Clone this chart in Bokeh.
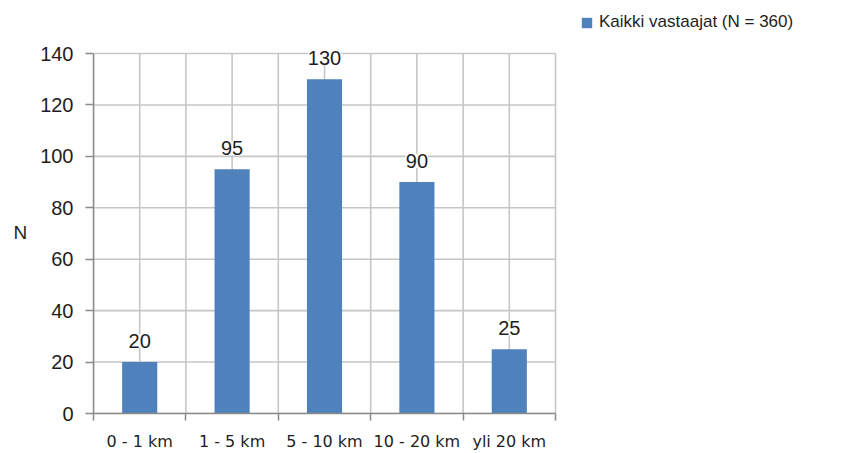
from bokeh.plotting import figure
from bokeh.models import (ColumnDataSource, Range1d, FixedTicker, LabelSet, Legend,
                          LegendItem)
from bokeh.core.properties import value
from bokeh.embed import file_html
from bokeh.resources import INLINE

categories = ["0 - 1 km", "1 - 5 km", "5 - 10 km", "10 - 20 km", "yli 20 km"]
values = [20, 95, 130, 90, 25]
series_name = "Kaikki vastaajat (N = 360)"
y_ticks = [0, 20, 40, 60, 80, 100, 120, 140]

BAR = "#4F81BD"
GRID = "#C6C6C6"
AXIS = "#8A8A8A"
TXT = "#1E1E1E"
FONT = "Liberation Sans"
XFONT = "DejaVu Sans"

n = len(categories)
ymax = max(y_ticks)
centers = [i + 0.5 for i in range(n)]
bounds = [float(i) for i in range(n + 1)]
src = ColumnDataSource(dict(x=centers, top=values, label=[str(v) for v in values]))

# frame extends beyond the axes so the legend can sit in the top-right corner
FW, FH = 739, 405
cat_px = 92.4
p = figure(frame_width=FW, frame_height=FH, output_backend="svg", toolbar_location=None,
           x_range=Range1d(0, FW / cat_px), y_range=Range1d(0, ymax * FH / 360.0),
           min_border_left=93, min_border_right=8, min_border_top=8,
           min_border_bottom=36)
p.outline_line_color = None
p.background_fill_color = "white"
p.xgrid.grid_line_color = None
p.ygrid.grid_line_color = None

# gridlines limited to the plot area (0..n, 0..ymax)
vx = sorted(centers + bounds)
p.segment(x0=vx, x1=vx, y0=[0] * len(vx), y1=[ymax] * len(vx),
          line_color=GRID, line_width=1.6)
p.segment(x0=[0] * len(y_ticks), x1=[n] * len(y_ticks), y0=y_ticks, y1=y_ticks,
          line_color=GRID, line_width=1.6)

r = p.vbar(x="x", top="top", width=0.38, bottom=0, source=src,
           fill_color=BAR, line_color=None)

# x axis
xt = FixedTicker(ticks=centers, minor_ticks=bounds)
p.xaxis.ticker = xt
p.xaxis.bounds = (0, n)
p.xaxis.major_label_overrides = {c: s for c, s in zip(centers, categories)}
p.xaxis.major_tick_out = 0
p.xaxis.major_tick_in = 0
p.xaxis.minor_tick_out = 7
p.xaxis.minor_tick_in = 0
p.xaxis.minor_tick_line_color = AXIS
p.xaxis.axis_line_color = AXIS
p.xaxis.axis_line_width = 1.5
p.xaxis.minor_tick_line_width = 1.5
p.xaxis.major_label_text_font = XFONT
p.xaxis.major_label_text_font_size = "16px"
p.xaxis.major_label_text_color = TXT
p.xaxis.major_label_standoff = 11

# y axis
p.yaxis.ticker = FixedTicker(ticks=y_ticks)
p.yaxis.bounds = (0, ymax)
p.yaxis.minor_tick_line_color = None
p.yaxis.major_tick_out = 8
p.yaxis.major_tick_in = 0
p.yaxis.major_tick_line_color = AXIS
p.yaxis.axis_line_color = AXIS
p.yaxis.axis_line_width = 1.5
p.yaxis.major_tick_line_width = 1.5
p.yaxis.major_label_text_font = FONT
p.yaxis.major_label_text_font_size = "20px"
p.yaxis.major_label_text_color = TXT
p.yaxis.major_label_standoff = 12
p.yaxis.axis_label = "\n\nN"
p.yaxis.axis_label_orientation = "horizontal"
p.yaxis.axis_label_text_font = FONT
p.yaxis.axis_label_text_font_size = "19px"
p.yaxis.axis_label_text_font_style = "normal"
p.yaxis.axis_label_text_color = TXT
p.yaxis.axis_label_standoff = 10
p.yaxis.axis_label_text_line_height = 1.0

labels = LabelSet(x="x", y="top", text="label", source=src, text_align="center",
                  text_baseline="bottom", y_offset=14, text_font=value(FONT),
                  text_font_size="20px", text_color=TXT,
                  background_fill_color="white")
p.add_layout(labels)

legend = Legend(items=[LegendItem(label=series_name, renderers=[r])],
                location=(487, 381), orientation="horizontal",
                label_text_font=FONT, label_text_font_size="17px",
                label_text_color=TXT, glyph_width=13, glyph_height=13,
                border_line_color=None, background_fill_alpha=0,
                padding=0, margin=0, label_standoff=6)
p.add_layout(legend, "center")

open("out.html", "w").write(file_html(p, INLINE))
